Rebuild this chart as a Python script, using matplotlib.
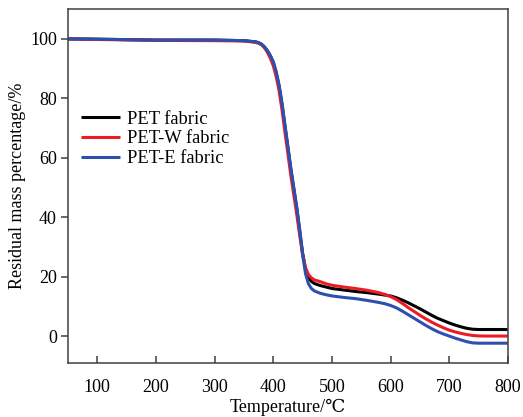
import matplotlib
matplotlib.use('Agg')
import matplotlib.pyplot as plt

plt.rcParams['font.family'] = ['Liberation Serif', 'DejaVu Serif']

# TG curves: temperature in degC, residual mass in %
temperature = [50, 100, 200, 300, 350, 370, 375, 380, 385, 390, 395, 400, 405, 410, 415,
               420, 425, 430, 435, 440, 445, 450, 455, 460, 465, 470, 480, 490, 500, 520,
               540, 560, 580, 590, 600, 610, 620, 630, 640, 650, 660, 670, 680, 690, 700,
               710, 720, 730, 740, 750, 760, 800]

mass_pet = [100.0, 99.9, 99.6, 99.6, 99.4, 99.0, 98.7, 98.2, 97.3, 96.0, 94.3, 92.0, 88.5,
            84.0, 77.8, 70.5, 63.3, 56.0, 49.5, 43.0, 35.5, 28.0, 22.5, 19.7, 18.4, 17.7,
            17.0, 16.5, 16.0, 15.5, 15.0, 14.6, 14.1, 13.8, 13.5, 12.9, 12.1, 11.2, 10.2,
            9.2, 8.1, 7.0, 6.0, 5.2, 4.4, 3.7, 3.1, 2.6, 2.3, 2.2, 2.2, 2.2]

mass_pet_w = [100.0, 99.8, 99.5, 99.4, 99.3, 98.8, 98.5, 98.0, 97.0, 95.5, 93.5, 91.0, 87.3,
              82.5, 76.0, 68.5, 61.3, 54.0, 47.5, 41.0, 34.0, 27.5, 23.0, 20.7, 19.6, 18.9,
              18.3, 17.6, 17.1, 16.5, 16.0, 15.4, 14.6, 14.0, 13.3, 12.3, 11.0, 9.6, 8.3,
              7.0, 5.8, 4.7, 3.7, 2.8, 2.0, 1.4, 0.9, 0.5, 0.2, 0.05, 0.0, 0.0]

mass_pet_e = [100.0, 99.9, 99.6, 99.6, 99.4, 99.0, 98.7, 98.2, 97.3, 96.0, 94.4, 92.4, 89.0,
              84.5, 78.3, 71.0, 63.8, 56.5, 50.0, 43.5, 36.0, 27.5, 21.0, 17.6, 16.0, 15.2,
              14.4, 13.9, 13.5, 13.0, 12.6, 12.0, 11.3, 10.9, 10.3, 9.5, 8.4, 7.2, 6.0,
              4.8, 3.6, 2.5, 1.5, 0.7, 0.0, -0.7, -1.3, -1.9, -2.3, -2.4, -2.4, -2.4]

labels = ['PET fabric', 'PET-W fabric', 'PET-E fabric']
colors = ['#000000', '#ed1c24', '#2f4fae']

fig = plt.figure(figsize=(5.23, 4.17), dpi=100)
ax = fig.add_axes([0.130, 0.130, 0.841, 0.848])

for mass, label, color in zip([mass_pet, mass_pet_w, mass_pet_e], labels, colors):
    ax.plot(temperature, mass, color=color, lw=2.2, label=label,
            solid_joinstyle='round', solid_capstyle='butt')

ax.set_xlim(50, 800)
ax.set_ylim(-9, 110)
ax.set_xticks(range(100, 801, 100))
ax.set_yticks(range(0, 101, 20))

for sp in ax.spines.values():
    sp.set_color('#404040')
    sp.set_linewidth(1.1)

ax.tick_params(axis='x', direction='in', length=5, width=1.1, color='#404040',
               labelsize=13, pad=12)
ax.tick_params(axis='y', direction='out', length=5, width=1.1, color='#404040',
               labelsize=13, pad=3)

ax.set_xlabel('Temperature/℃', fontsize=13, labelpad=2)
ax.set_ylabel('Residual mass percentage/%', fontsize=13, labelpad=3)

ax.legend(loc='upper left', bbox_to_anchor=(-0.008, 0.76), frameon=False, fontsize=13.3,
          handlelength=2.1, handletextpad=0.4, labelspacing=0.15, borderaxespad=0.5)

fig.savefig('out.png', dpi=100)
